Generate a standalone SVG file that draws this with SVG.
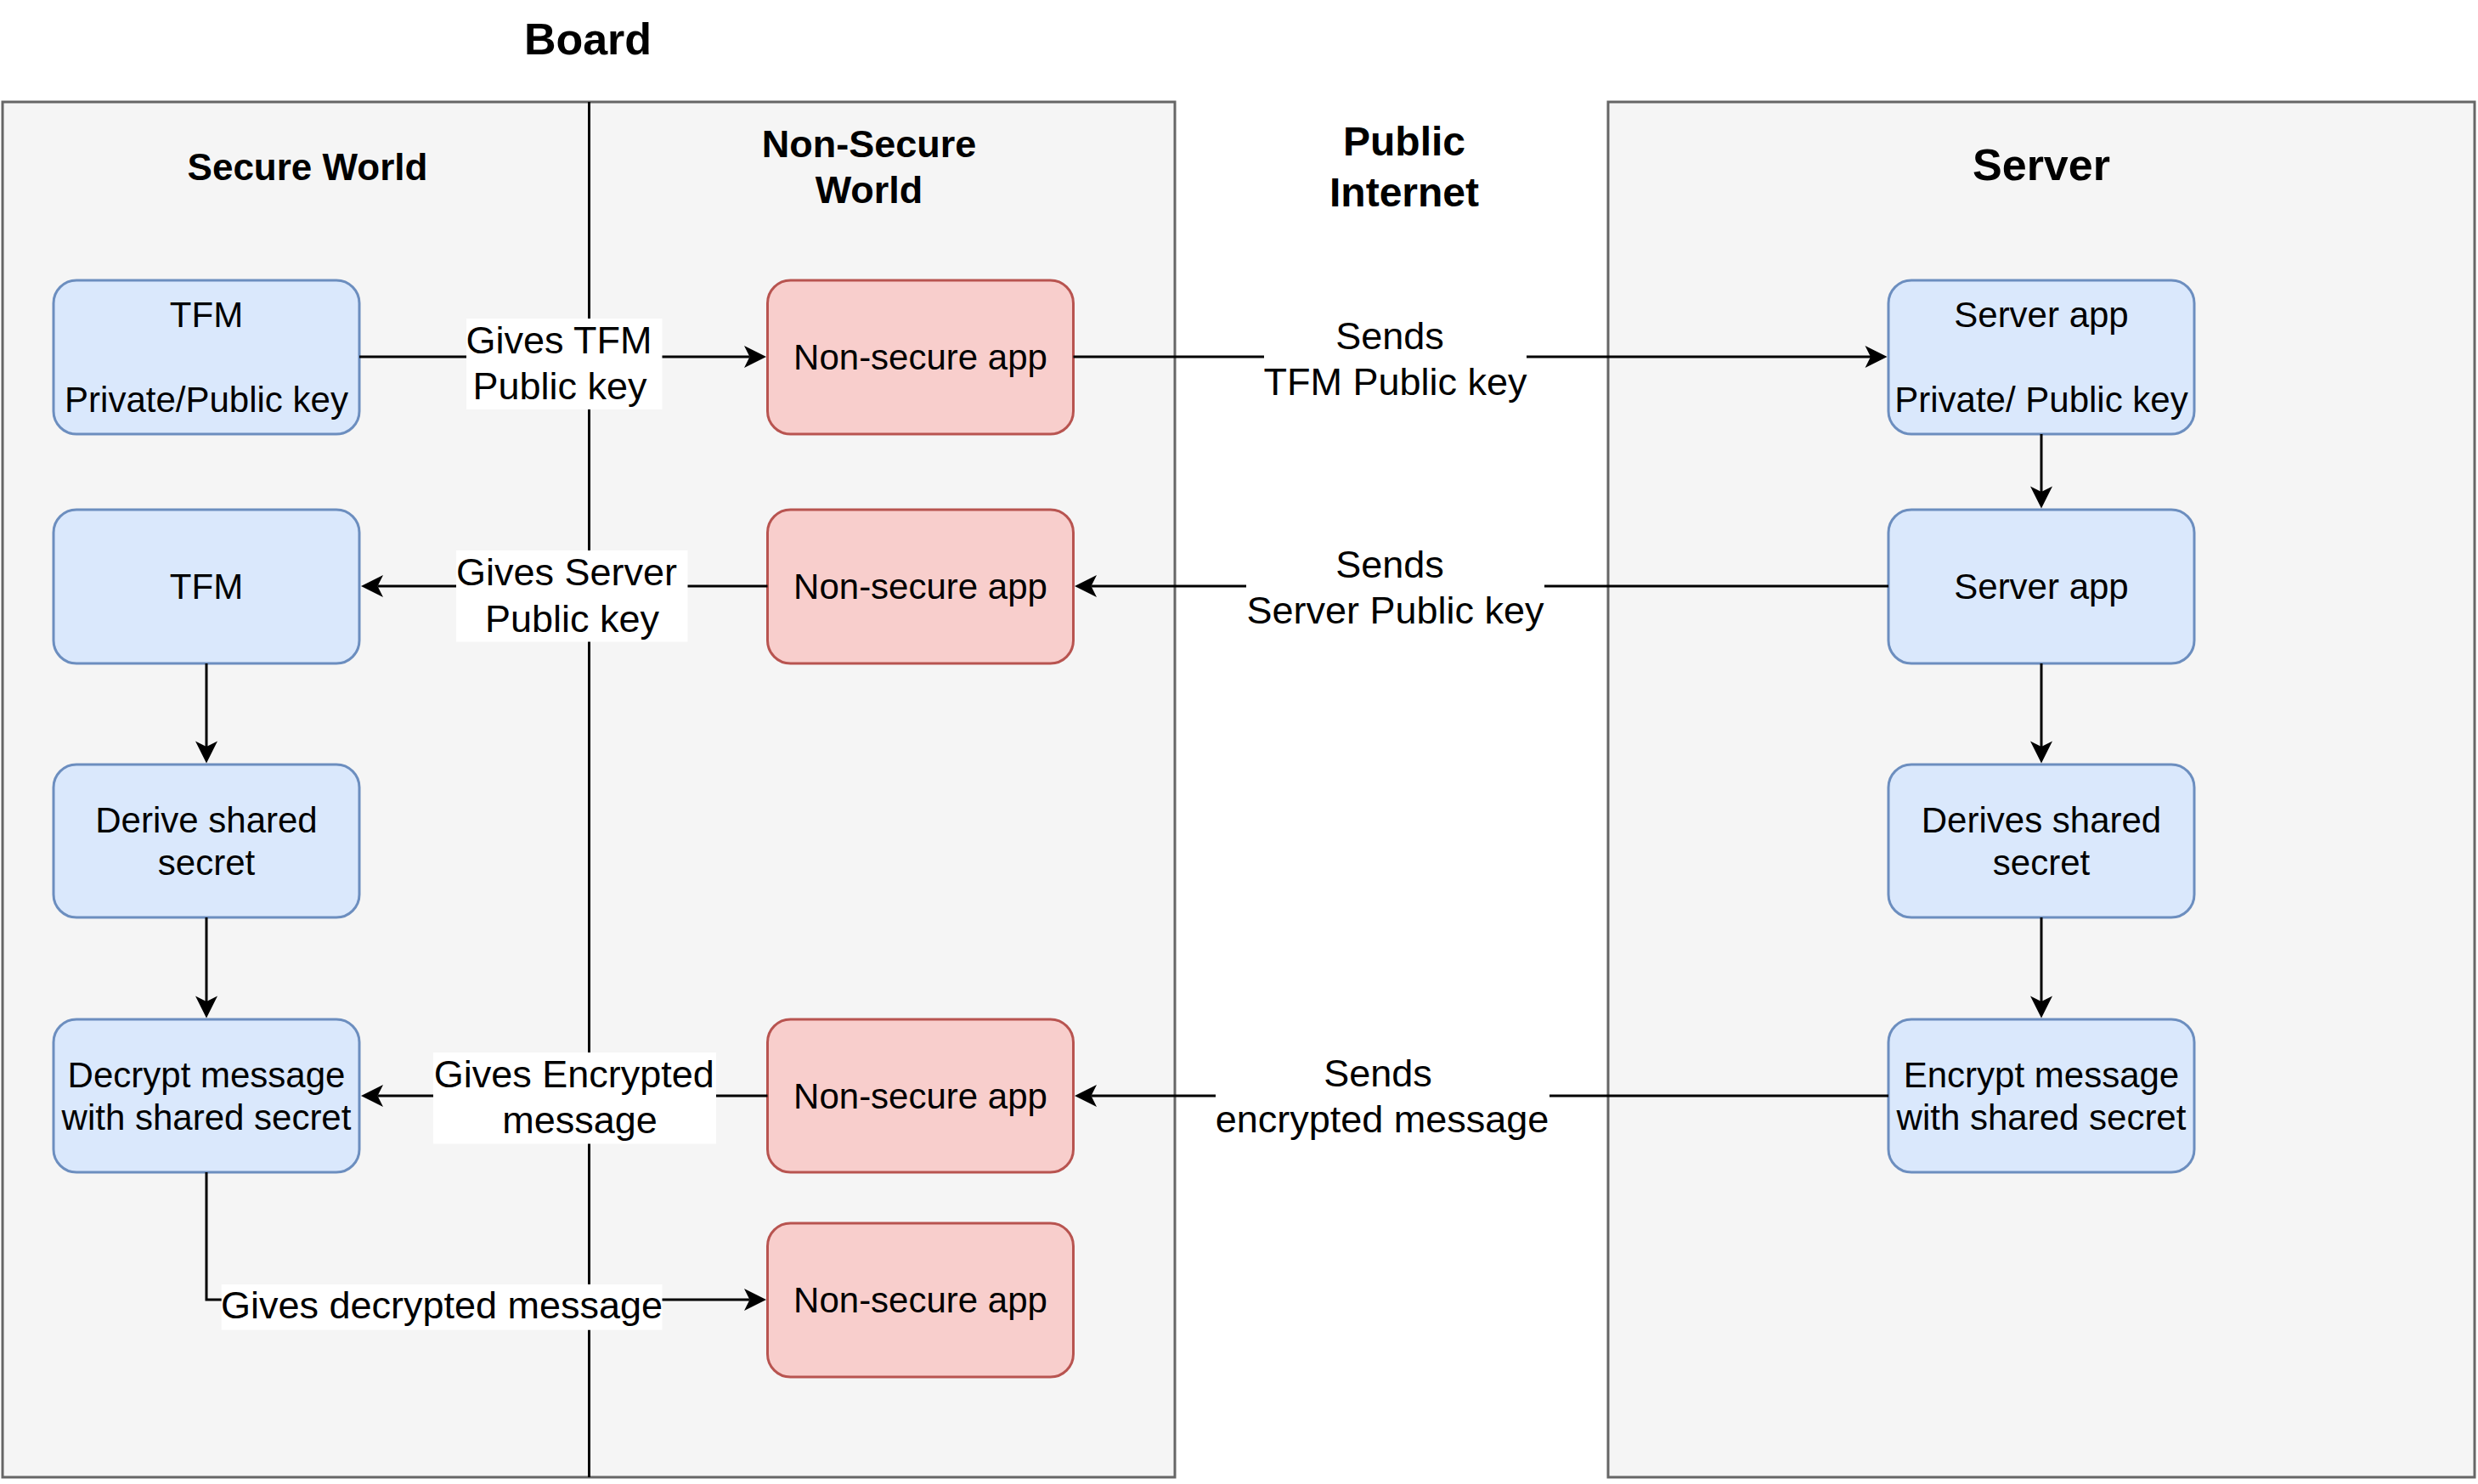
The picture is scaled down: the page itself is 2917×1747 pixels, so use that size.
<svg xmlns="http://www.w3.org/2000/svg" width="2917" height="1747" viewBox="0 0 2917 1747">
<style>
text{font-family:"Liberation Sans",Arial,sans-serif;fill:#000;text-anchor:middle}
.t{font-size:42px}
.l{font-size:45px}
.h{font-weight:bold}
.lane{fill:#f5f5f5;stroke:#666666;stroke-width:3}
.blue{fill:#dae8fc;stroke:#6c8ebf;stroke-width:3}
.red{fill:#f8cecc;stroke:#b85450;stroke-width:3}
.edge{fill:none;stroke:#000;stroke-width:3}
.lbg{fill:#fff;stroke:none}
</style>
<defs>
<marker id="arr" viewBox="-30 -15 32 30" markerWidth="32" markerHeight="30" refX="-19.5" refY="0" orient="auto" markerUnits="userSpaceOnUse">
<path d="M0,0 L-26,-13 L-19.5,0 L-26,13 Z" fill="#000"/>
</marker>
</defs>
<rect width="2917" height="1747" fill="#fff"/>

<g id="board">
<rect class="lane" x="3" y="120" width="1380" height="1619"/>
<line x1="693.5" y1="120" x2="693.5" y2="1739" stroke="#000" stroke-width="3"/>
<text class="h" x="692" y="64" font-size="52">Board</text>
<text class="h" x="362" y="212" font-size="44">Secure World</text>
<text class="h" x="1023" y="185" font-size="45">Non-Secure</text>
<text class="h" x="1023" y="239" font-size="45">World</text>
</g>
<g id="server">
<rect class="lane" x="1893" y="120" width="1020" height="1619"/>
<text class="h" x="2403" y="212" font-size="52">Server</text>
</g>
<g id="internet">
<text class="h" x="1653" y="183" font-size="48">Public</text>
<text class="h" x="1653" y="243" font-size="48">Internet</text>
</g>

<g id="tfm1"><rect class="blue" x="63" y="330" width="360" height="181" rx="27"/>
<text class="t" x="243" y="385">TFM</text><text class="t" x="243" y="485">Private/Public key</text></g>
<g id="ns1"><rect class="red" x="903.5" y="330" width="360" height="181" rx="27"/>
<text class="t" x="1083.5" y="435">Non-secure app</text></g>
<g id="srv1"><rect class="blue" x="2223" y="330" width="360" height="181" rx="27"/>
<text class="t" x="2403" y="385">Server app</text><text class="t" x="2403" y="485">Private/ Public key</text></g>

<g id="tfm2"><rect class="blue" x="63" y="600" width="360" height="181" rx="27"/>
<text class="t" x="243" y="705">TFM</text></g>
<g id="ns2"><rect class="red" x="903.5" y="600" width="360" height="181" rx="27"/>
<text class="t" x="1083.5" y="705">Non-secure app</text></g>
<g id="srv2"><rect class="blue" x="2223" y="600" width="360" height="181" rx="27"/>
<text class="t" x="2403" y="705">Server app</text></g>

<g id="derive"><rect class="blue" x="63" y="900" width="360" height="180" rx="27"/>
<text class="t" x="243" y="980">Derive shared</text><text class="t" x="243" y="1030">secret</text></g>
<g id="derives"><rect class="blue" x="2223" y="900" width="360" height="180" rx="27"/>
<text class="t" x="2403" y="980">Derives shared</text><text class="t" x="2403" y="1030">secret</text></g>

<g id="decrypt"><rect class="blue" x="63" y="1200" width="360" height="180" rx="27"/>
<text class="t" x="243" y="1280">Decrypt message</text><text class="t" x="243" y="1330">with shared secret</text></g>
<g id="ns3"><rect class="red" x="903.5" y="1200" width="360" height="180" rx="27"/>
<text class="t" x="1083.5" y="1305">Non-secure app</text></g>
<g id="encrypt"><rect class="blue" x="2223" y="1200" width="360" height="180" rx="27"/>
<text class="t" x="2403" y="1280">Encrypt message</text><text class="t" x="2403" y="1330">with shared secret</text></g>

<g id="ns4"><rect class="red" x="903.5" y="1440" width="360" height="181" rx="27"/>
<text class="t" x="1083.5" y="1545">Non-secure app</text></g>

<g id="connectors">
<path class="edge" d="M423,420 H882.5" marker-end="url(#arr)"/>
<path class="edge" d="M1263.5,420 H2202" marker-end="url(#arr)"/>
<path class="edge" d="M2223,690 H1284.5" marker-end="url(#arr)"/>
<path class="edge" d="M903.5,690 H444.5" marker-end="url(#arr)"/>
<path class="edge" d="M243,781 V879" marker-end="url(#arr)"/>
<path class="edge" d="M243,1080 V1179" marker-end="url(#arr)"/>
<path class="edge" d="M2403,511 V579" marker-end="url(#arr)"/>
<path class="edge" d="M2403,781 V879" marker-end="url(#arr)"/>
<path class="edge" d="M2403,1080 V1179" marker-end="url(#arr)"/>
<path class="edge" d="M2223,1290 H1284.5" marker-end="url(#arr)"/>
<path class="edge" d="M903.5,1290 H444.5" marker-end="url(#arr)"/>
<path class="edge" d="M243,1380 V1530 H882.5" marker-end="url(#arr)"/>

<rect class="lbg" x="549" y="375" width="230.5" height="107"/>
<text class="l" x="658" y="416">Gives TFM</text><text class="l" x="659" y="470">Public key</text>
<rect class="lbg" x="1488" y="380" width="309" height="100"/>
<text class="l" x="1636" y="411">Sends</text><text class="l" x="1642.5" y="465">TFM Public key</text>

<rect class="lbg" x="537" y="648" width="272.5" height="107.5"/>
<text class="l" x="667" y="689">Gives Server</text><text class="l" x="673.5" y="744">Public key</text>
<rect class="lbg" x="1467" y="648" width="351" height="100"/>
<text class="l" x="1636" y="680">Sends</text><text class="l" x="1642.5" y="734">Server Public key</text>

<rect class="lbg" x="1431" y="1245" width="393" height="100"/>
<text class="l" x="1622" y="1279">Sends</text><text class="l" x="1627" y="1333">encrypted message</text>
<rect class="lbg" x="510" y="1239" width="333" height="107.5"/>
<text class="l" x="675.7" y="1280">Gives Encrypted</text><text class="l" x="682.6" y="1334">message</text>

<rect class="lbg" x="260.7" y="1512" width="518.8" height="53.7"/>
<text class="l" x="520" y="1551.5">Gives decrypted message</text>
</g>
</svg>
